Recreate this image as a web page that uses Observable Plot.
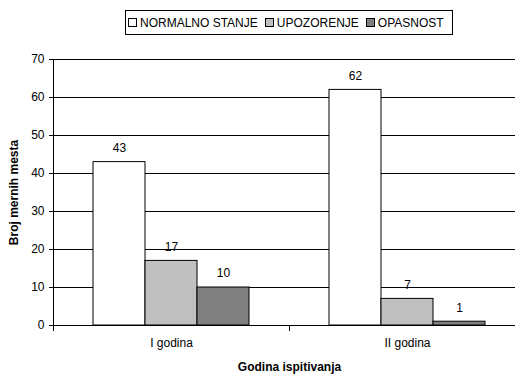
<!DOCTYPE html>
<html><head><meta charset="utf-8">
<script src="https://cdn.jsdelivr.net/npm/d3@7"></script>
<script src="https://cdn.jsdelivr.net/npm/@observablehq/plot@0.6"></script>
<style>
body{margin:0;background:#fff;font-family:Arial,"Liberation Sans",sans-serif;}
#wrap{width:515px;height:374px;overflow:hidden;background:#fff}
#legendRow{height:44px;position:relative}
#legend{position:absolute;left:125px;top:10px;width:328px;height:25px;box-sizing:border-box;border:1px solid #000;display:flex;align-items:center;padding-left:2px;font-size:12px;white-space:nowrap;color:#000}
#legend .item{display:flex;align-items:center;margin-right:7px}
#legend .sw{width:7px;height:7px;border:1px solid #000;margin-right:3px}
g[aria-label="y-axis label"] text, g[aria-label="fx-axis label"] text{font-weight:bold}
</style>
</head><body>
<div id="wrap"><div id="legendRow"><div id="legend"></div></div><div id="chart"></div></div>
<script>
const years = ["I godina", "II godina"];
const series = ["NORMALNO STANJE", "UPOZORENJE", "OPASNOST"];
const normalnoStanje = [43, 62];
const upozorenje = [17, 7];
const opasnost = [10, 1];
const colors = ["#ffffff", "#c0c0c0", "#808080"];
const yTicks = [0, 10, 20, 30, 40, 50, 60, 70];

const valuesBySeries = [normalnoStanje, upozorenje, opasnost];
const data = [];
years.forEach((yr, i) => series.forEach((s, j) => data.push({year: yr, series: s, value: valuesBySeries[j][i]})));

const legend = document.getElementById("legend");
series.forEach((s, j) => {
  const it = document.createElement("div"); it.className = "item";
  const sw = document.createElement("div"); sw.className = "sw"; sw.style.background = colors[j];
  const lb = document.createElement("span"); lb.textContent = s;
  it.appendChild(sw); it.appendChild(lb); legend.appendChild(it);
});

const chart = Plot.plot({
  width: 515, height: 330,
  marginTop: 15, marginBottom: 49, marginLeft: 53, marginRight: 0,
  style: {fontFamily: "Arial, 'Liberation Sans', sans-serif", fontSize: "12px", color: "#000", background: "#fff"},
  fx: {domain: years, range: [53, 525], padding: 0},
  x: {domain: series, paddingInner: 0, paddingOuter: 0.755, axis: null},
  y: {domain: [0, 70]},
  color: {domain: series, range: colors},
  marks: [
    Plot.gridY(yTicks, {stroke: "#000", strokeOpacity: 1}),
    Plot.frame({anchor: "left", facetAnchor: "left", stroke: "#000"}),
    Plot.frame({anchor: "left", insetTop: 266, insetBottom: -5, stroke: "#000"}),
    Plot.barY(data, {fx: "year", x: "series", y: "value", fill: "series", stroke: "#000", strokeWidth: 1}),
    Plot.text(data, {fx: "year", x: "series", y: "value", text: d => String(d.value), dy: -14, fill: "#000"}),
    Plot.axisY(yTicks, {tickSize: 4, tickPadding: 5, label: "Broj mernih mesta", labelAnchor: "center", labelArrow: "none", labelOffset: 44}),
    Plot.axisFx({anchor: "bottom", tickSize: 0, tickPadding: 13, label: "Godina ispitivanja", labelAnchor: "center", labelArrow: "none", labelOffset: 45})
  ]
});
document.getElementById("chart").appendChild(chart);
</script>
</body></html>
